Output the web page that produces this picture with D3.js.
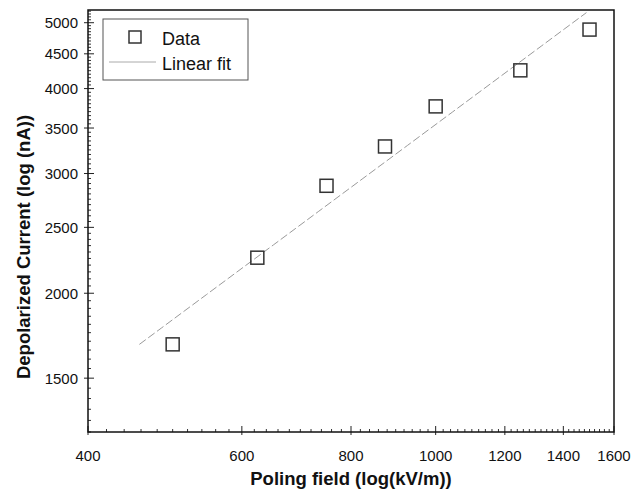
<!DOCTYPE html>
<html><head><meta charset="utf-8">
<script src="https://cdn.jsdelivr.net/npm/d3@7"></script>
<style>body{margin:0;background:#fff;} svg{display:block;font-family:"Liberation Sans",Arial,sans-serif;}</style>
</head><body>
<svg id="c" width="633" height="492"></svg>
<script>
const fieldX = [500, 625, 750, 875, 1000, 1250, 1500];
const currentY = [1682, 2256, 2878, 3288, 3766, 4255, 4885];
const fitRange = [458, 1488];
const xTicks = [400, 600, 800, 1000, 1200, 1400, 1600];
const yTicks = [1500, 2000, 2500, 3000, 3500, 4000, 4500, 5000];
const xDomain = [400, 1600];
const yDomain = [1250, 5220];

const svg = d3.select("#c");
const L = 88, R = 614, T = 10, B = 432;
const x = d3.scaleLog().domain(xDomain).range([L, R]);
const y = d3.scaleLog().domain(yDomain).range([B, T]);

// minor ticks
const xMinor = d3.range(420, 1600, 20).filter(v => !xTicks.includes(v));
const yMinor = d3.range(1250, 5220, 50).filter(v => !yTicks.includes(v));

const g = svg.append("g");
// x axis ticks (inward)
g.selectAll(".xm").data(xMinor).join("line")
  .attr("x1", d => x(d)).attr("x2", d => x(d)).attr("y1", B).attr("y2", B - 3)
  .attr("stroke", "#333").attr("stroke-width", 1);
g.selectAll(".xM").data(xTicks).join("line")
  .attr("x1", d => x(d)).attr("x2", d => x(d)).attr("y1", B + 3).attr("y2", B - 6)
  .attr("stroke", "#222").attr("stroke-width", 1);
g.selectAll(".xl").data(xTicks).join("text")
  .attr("x", d => x(d)).attr("y", 461).attr("text-anchor", "middle")
  .attr("font-size", 15).attr("fill", "#111").text(d => d);

// y axis ticks
g.selectAll(".ym").data(yMinor).join("line")
  .attr("x1", L).attr("x2", L + 3).attr("y1", d => y(d)).attr("y2", d => y(d))
  .attr("stroke", "#333").attr("stroke-width", 1);
g.selectAll(".yM").data(yTicks).join("line")
  .attr("x1", L - 4).attr("x2", L + 6).attr("y1", d => y(d)).attr("y2", d => y(d))
  .attr("stroke", "#222").attr("stroke-width", 1);
g.selectAll(".yl").data(yTicks).join("text")
  .attr("x", 78).attr("y", d => y(d) + 5.5).attr("text-anchor", "end")
  .attr("font-size", 15).attr("fill", "#111").text(d => d);

// frame
svg.append("rect").attr("x", L).attr("y", T).attr("width", R - L).attr("height", B - T)
  .attr("fill", "none").attr("stroke", "#111").attr("stroke-width", 1.5);

// linear fit in log-log space
const lx = fieldX.map(Math.log), ly = currentY.map(Math.log);
const mx = d3.mean(lx), my = d3.mean(ly);
const slope = d3.sum(lx.map((v, i) => (v - mx) * (ly[i] - my))) / d3.sum(lx.map(v => (v - mx) ** 2));
const fit = v => Math.exp(my + slope * (Math.log(v) - mx));
const fitPts = d3.range(0, 21).map(i => {
  const v = Math.exp(Math.log(fitRange[0]) + i / 20 * (Math.log(fitRange[1]) - Math.log(fitRange[0])));
  return [v, fit(v)];
});
svg.append("path").datum(fitPts)
  .attr("d", d3.line().x(d => x(d[0])).y(d => y(d[1])))
  .attr("fill", "none").attr("stroke", "#9a9a9a").attr("stroke-width", 1)
  .attr("stroke-dasharray", "8,3");

// data squares
const s = 13;
svg.selectAll(".pt").data(fieldX.map((v, i) => [v, currentY[i]])).join("rect")
  .attr("x", d => x(d[0]) - s / 2).attr("y", d => y(d[1]) - s / 2)
  .attr("width", s).attr("height", s)
  .attr("fill", "none").attr("stroke", "#333").attr("stroke-width", 1.5);

// legend
const lg = svg.append("g");
lg.append("rect").attr("x", 103).attr("y", 19).attr("width", 145).attr("height", 61)
  .attr("fill", "#fff").attr("stroke", "#555").attr("stroke-width", 1);
lg.append("rect").attr("x", 129).attr("y", 31).attr("width", 12).attr("height", 12)
  .attr("fill", "none").attr("stroke", "#333").attr("stroke-width", 1.5);
lg.append("text").attr("x", 162).attr("y", 45).attr("font-size", 18).attr("fill", "#111").text("Data");
lg.append("line").attr("x1", 109).attr("x2", 156).attr("y1", 62).attr("y2", 62)
  .attr("stroke", "#aaa").attr("stroke-width", 1);
lg.append("text").attr("x", 162).attr("y", 70).attr("font-size", 18).attr("fill", "#111").text("Linear fit");

// axis titles
svg.append("text").attr("x", 351).attr("y", 485).attr("text-anchor", "middle")
  .attr("font-size", 18.5).attr("font-weight", "bold").attr("fill", "#111")
  .text("Poling field (log(kV/m))");
svg.append("text").attr("transform", "translate(30,247) rotate(-90)").attr("text-anchor", "middle")
  .attr("font-size", 18.5).attr("font-weight", "bold").attr("fill", "#111")
  .text("Depolarized Current (log (nA))");
</script>
</body></html>
